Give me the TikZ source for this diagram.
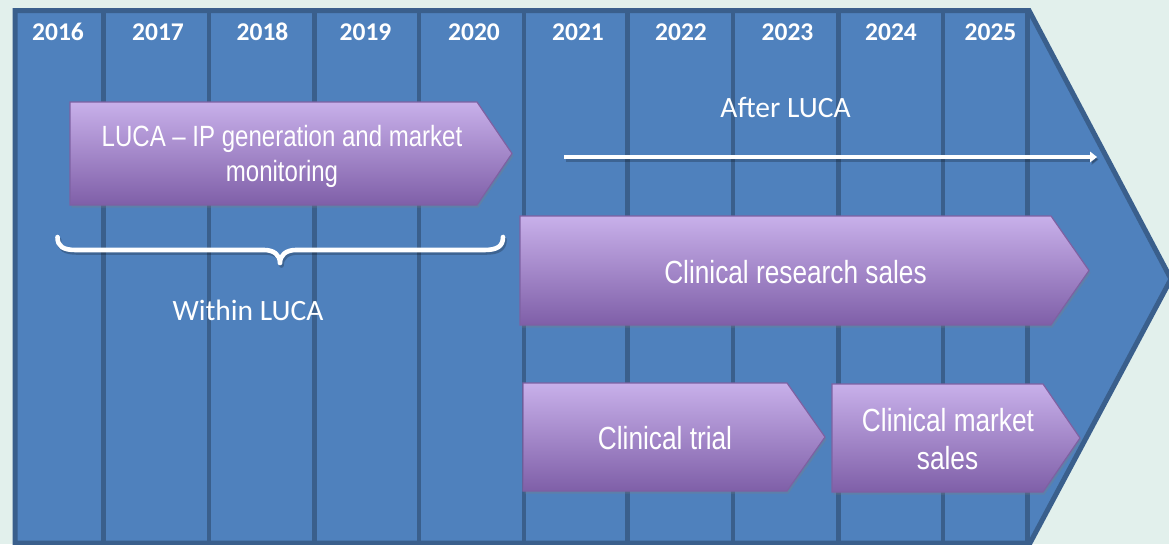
\documentclass[tikz,border=0pt]{standalone}
\usepackage{fontspec}
\setmainfont{Carlito}
\newfontfamily\narrowfont[FakeStretch=0.82]{Liberation Sans}
\usetikzlibrary{arrows.meta,shadows}

\definecolor{pagebg}{HTML}{E2F0EC}
\definecolor{chevfill}{HTML}{4F81BD}
\definecolor{chevedge}{HTML}{3A5F8C}
\definecolor{phasetop}{HTML}{C8B0EA}
\definecolor{phasemid}{HTML}{B49ADA}
\definecolor{phasebot}{HTML}{7F5FA8}
\definecolor{phaseedge}{HTML}{7E61A2}

\begin{document}
\begin{tikzpicture}[x=1pt,y=-1pt,
  yearlabel/.style={text=white, inner sep=0pt, anchor=base,
    font=\fontsize{25.5}{30}\selectfont\bfseries},
  sidelabel/.style={text=white, inner sep=0pt, anchor=base,
    font=\fontsize{29.5}{35}\selectfont},
  phase/.style={draw=phaseedge, line width=1.2pt, line join=miter,
    top color=phasetop, middle color=phasemid, bottom color=phasebot,
    drop shadow={shadow xshift=1.5pt, shadow yshift=-2.5pt, opacity=.3}},
  phasetext/.style={text=white, inner sep=0pt, anchor=base,
    font=\narrowfont\fontsize{32}{38}\selectfont},
  smalltext/.style={phasetext, font=\narrowfont\fontsize{29.3}{35}\selectfont},
  colsep/.style={draw=chevedge, line width=4.6pt},
  whiteline/.style={draw=white, line width=4.6pt},
  softshadow/.style={draw=black, opacity=.22, line width=4.6pt,
    transform canvas={shift={(1.5pt,-2.5pt)}}}
]
\useasboundingbox (0,0) rectangle (1169,544);
\clip (0,0) rectangle (1169,544);
\fill[pagebg] (0,0) rectangle (1169,544);

% timeline chevron
\coordinate (tl) at (15,10.5);
\coordinate (tr) at (1029,10.5);
\coordinate (tip) at (1171,279);
\coordinate (br) at (1030,543);
\coordinate (bl) at (15,543);
\filldraw[fill=chevfill, draw=chevedge, line width=5pt, line join=miter]
  (tl) -- (tr) -- (tip) -- (br) -- (bl) -- cycle;

% year columns
\foreach \x in {103.3,209,314.5,419,524,627.5,733,838.5,943,1027.5}
  \draw[colsep] (\x,10.5) -- (\x,543);
\foreach \yr/\x in {2016/58,2017/158,2018/262.5,2019/365.5,2020/474,
                    2021/578,2022/681,2023/787.5,2024/891,2025/990.5}
  \node[yearlabel] (y\yr) at (\x,40) {\yr};

% phases
\path[phase] (70,102) -- (477,102) -- (512,153.5) -- (477,205) -- (70,205) -- cycle;
\path[phase] (520,216) -- (1051,216) -- (1089,270.5) -- (1051,325) -- (520,325) -- cycle;
\path[phase] (523,383) -- (787,383) -- (825,437) -- (787,491) -- (523,491) -- cycle;
\path[phase] (832,384) -- (1043,384) -- (1080,438) -- (1043,492) -- (832,492) -- cycle;

\node[smalltext] (luca1) at (282,146) {LUCA – IP generation and market};
\node[smalltext] (luca2) at (282,181) {monitoring};
\node[phasetext] (research) at (795.5,283) {Clinical research sales};
\node[phasetext] (trial) at (665,449.5) {Clinical trial};
\node[phasetext] (market1) at (948,431) {Clinical market};
\node[phasetext] (market2) at (947.5,469.5) {sales};

% brace under the LUCA period
\foreach \sty in {softshadow,whiteline}
  \draw[\sty, line cap=round, line join=round]
    (57.5,237) .. controls (57.5,246.5) and (63,250) .. (76,250)
    -- (264,250) .. controls (274,250) and (280,255) .. (280,263)
    .. controls (280,255) and (286,250) .. (296,250)
    -- (484,250) .. controls (497,250) and (503,246.5) .. (503,237);
\node[sidelabel] (within) at (248,320) {Within LUCA};

% arrow for the period after LUCA
\coordinate (afterS) at (564,157);
\coordinate (afterE) at (1097,157);
\draw[softshadow, -{Triangle[length=7pt,width=10.5pt]}] (afterS) -- (afterE);
\draw[whiteline, -{Triangle[length=7pt,width=10.5pt]}] (afterS) -- (afterE);
\node[sidelabel] (after) at (785.5,117) {After LUCA};
\end{tikzpicture}
\end{document}
